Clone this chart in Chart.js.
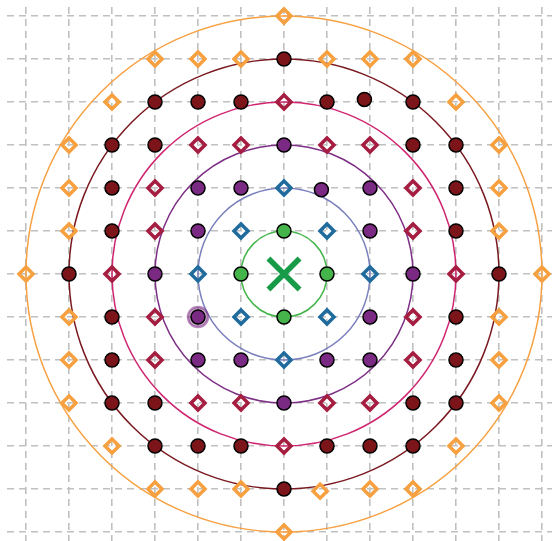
<!DOCTYPE html>
<html>
<head>
<meta charset="utf-8">
<script src="https://cdn.jsdelivr.net/npm/chart.js@4.4.0/dist/chart.umd.min.js"></script>
<style>
  html, body { margin: 0; padding: 0; background: #ffffff; overflow: hidden; }
  #c { display: block; }
</style>
</head>
<body>
<canvas id="c" width="552" height="541"></canvas>
<script>
// grid ticks
let tickValues = [-6, -5, -4, -3, -2, -1, 0, 1, 2, 3, 4, 5, 6]

// query point and the highlighted neighbour
let queryPt = [[0, 0]]
let highlightPt = [[-2, -1]]

// ring radii
let ringRadii = [1, 2, 3, 4, 5, 6]
let ringColors = ['#45b54b', '#7a7fbd', '#7d2e85', '#cf2470', '#7a1a20', '#f7a142']

// points per ring
let greenPts = [[0, 1], [1, 0], [0, -1], [-1, 0]]

let bluePts = [[0, 2], [0, -2], [2, 0], [-2, 0], [1, 1], [1, -1], [-1, 1], [-1, -1]]

let purplePts = [
  [-2, 2], [-1, 2], [0.87, 1.96], [2, 2],
  [-2, 1], [2, 1], [-2, -1], [2, -1],
  [-2, -2], [-1, -2], [1, -2], [2, -2],
  [0, 3], [0, -3], [3, 0], [-3, 0]
]

let crimsonPts = [
  [-2, 3], [-1, 3], [1, 3], [2, 3],
  [-3, 2], [3, 2], [-3, 1], [3, 1],
  [-3, -1], [3, -1], [-3, -2], [3, -2],
  [-2, -3], [-1, -3], [1, -3], [2, -3],
  [0, 4], [0, -4], [4, 0], [-4, 0]
]

let darkRedPts = [
  [0, 5],
  [-3, 4], [-2, 4], [-1, 4], [1, 4], [1.87, 4.06], [3, 4],
  [-4, 3], [-3, 3], [3, 3], [4, 3],
  [-4, 2], [4, 2], [-4, 1], [4, 1],
  [-5, 0], [5, 0],
  [-4, -1], [4, -1], [-4, -2], [4, -2],
  [-4, -3], [-3, -3], [3, -3], [4, -3],
  [-3, -4], [-2, -4], [-1, -4], [1, -4], [2, -4], [3, -4],
  [0, -5]
]

let orangePts = [
  [0, 6],
  [-3, 5], [-2, 5], [-1, 5], [1, 5], [2, 5], [3, 5],
  [-4, 4], [4, 4],
  [-5, 3], [5, 3], [-5, 2], [5, 2], [-5, 1], [5, 1],
  [-6, 0], [6, 0],
  [-5, -1], [5, -1], [-5, -2], [5, -2], [-5, -3], [5, -3],
  [-4, -4], [4, -4],
  [-3, -5], [-2, -5], [-1, -5], [0.84, -5.05], [2, -5], [3, -5],
  [0, -6]
]

function toXY(arr) {
  return arr.map(p => ({ x: p[0], y: p[1] }))
}

function dotSet(pts, color) {
  return {
    data: toXY(pts),
    pointStyle: 'circle',
    pointRadius: 7,
    pointHoverRadius: 7,
    pointBackgroundColor: color,
    pointBorderColor: '#000000',
    pointBorderWidth: 1.5,
    showLine: false,
    order: 2
  }
}

function diamondSet(pts, color) {
  return {
    data: toXY(pts),
    pointStyle: 'rectRot',
    pointRadius: 7,
    pointHoverRadius: 7,
    pointBackgroundColor: 'rgba(255,255,255,0)',
    pointBorderColor: color,
    pointBorderWidth: 3.5,
    showLine: false,
    order: 2
  }
}

// rings drawn through the scales, under the markers
let ringPlugin = {
  id: 'rings',
  beforeDatasetsDraw(chart) {
    let ctx = chart.ctx
    let xs = chart.scales.x
    let ys = chart.scales.y
    let cx = xs.getPixelForValue(queryPt[0][0])
    let cy = ys.getPixelForValue(queryPt[0][1])
    ctx.save()
    ctx.lineWidth = 1.5
    for (let i = 0; i < ringRadii.length; i++) {
      let r = xs.getPixelForValue(ringRadii[i]) - xs.getPixelForValue(0)
      ctx.beginPath()
      ctx.strokeStyle = ringColors[i]
      ctx.arc(cx, cy, r, 0, Math.PI * 2)
      ctx.stroke()
    }
    ctx.restore()
  }
}

let axisOpts = {
  type: 'linear',
  ticks: { display: false },
  grid: {
    color: '#c0c0c0',
    lineWidth: 1.6,
    drawTicks: false,
    tickBorderDash: [7, 5]
  },
  border: { display: false, dash: [7, 5] },
  afterBuildTicks: scale => {
    scale.ticks = tickValues.map(v => ({ value: v }))
  }
}

new Chart(document.getElementById('c'), {
  type: 'scatter',
  data: {
    datasets: [
      {
        data: toXY(queryPt),
        pointStyle: 'crossRot',
        pointRadius: 22,
        pointHoverRadius: 22,
        pointBorderColor: '#179b48',
        pointBorderWidth: 5.5,
        showLine: false,
        order: 0
      },
      dotSet(greenPts, '#45b54b'),
      diamondSet(bluePts, '#1f6b9d'),
      dotSet(purplePts, '#7b2a83'),
      diamondSet(crimsonPts, '#a51d40'),
      dotSet(darkRedPts, '#7b1519'),
      diamondSet(orangePts, '#f7a040'),
      {
        data: toXY(highlightPt),
        pointStyle: 'circle',
        pointRadius: 10,
        pointHoverRadius: 10,
        pointBackgroundColor: 'rgba(123,42,131,0.35)',
        pointBorderColor: 'rgba(123,42,131,0.55)',
        pointBorderWidth: 2.5,
        showLine: false,
        order: 10
      }
    ]
  },
  options: {
    responsive: false,
    animation: false,
    maintainAspectRatio: false,
    devicePixelRatio: 1,
    layout: { autoPadding: false, padding: { left: 7, top: 7, right: 0, bottom: 0 } },
    clip: false,
    plugins: {
      legend: { display: false },
      tooltip: { enabled: false }
    },
    events: [],
    scales: {
      x: Object.assign({}, axisOpts, { min: -6.442, max: 6.233 }),
      y: Object.assign({}, axisOpts, { min: -6.21, max: 6.21 })
    }
  },
  plugins: [ringPlugin]
})
</script>
</body>
</html>
